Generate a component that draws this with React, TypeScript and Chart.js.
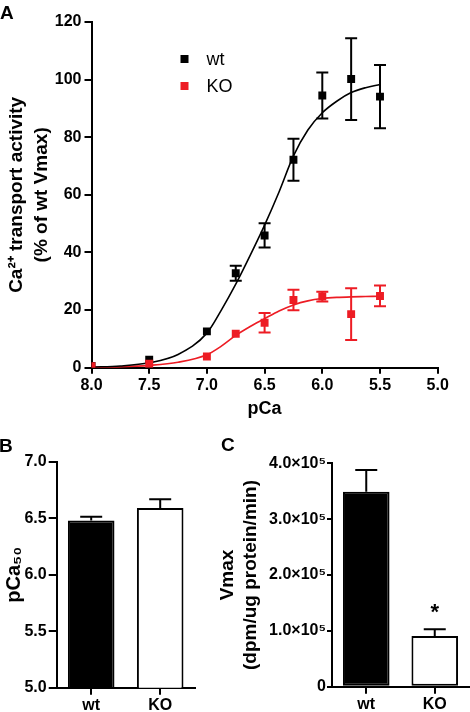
import React, { useEffect, useRef } from 'react';
import { Chart, registerables } from 'chart.js';

Chart.register(...registerables);

const FONT = "'Liberation Sans', Arial, Helvetica, sans-serif";
const RED = '#ED1C24';
const BLACK = '#000000';

// ---------- Panel A data ----------
const pCaLevels = [8.0, 7.5, 7.0, 6.75, 6.5, 6.25, 6.0, 5.75, 5.5];
const wtActivity = [0.6, 2.8, 12.6, 32.8, 45.9, 72.2, 94.5, 100.2, 94.1];
const wtSem = [0, 0, 0, 2.6, 4.2, 7.3, 8.0, 14.2, 11.0];
const koActivity = [0.5, 1.4, 3.9, 11.8, 15.6, 23.5, 24.7, 18.6, 24.9];
const koSem = [0, 0, 0, 0, 3.4, 3.6, 1.7, 9.0, 3.6];

const fitPCa = [8.0, 7.75, 7.5, 7.25, 7.0, 6.875, 6.75, 6.625, 6.5, 6.375, 6.25, 6.125, 6.0, 5.875, 5.75, 5.625, 5.5];
const wtFit = [0.2, 0.6, 1.7, 4.6, 12.0, 20.0, 29.0, 39.0, 49.5, 61.0, 73.5, 82.5, 88.5, 92.5, 95.5, 97.2, 98.3];
const koFit = [0.1, 0.3, 0.8, 1.9, 4.5, 7.5, 11.2, 14.3, 17.0, 19.7, 21.8, 23.2, 24.0, 24.4, 24.6, 24.7, 24.8];

const xTicksA = [8.0, 7.5, 7.0, 6.5, 6.0, 5.5, 5.0];
const yTicksA = [0, 20, 40, 60, 80, 100, 120];
const legendLabels = ['wt', 'KO'];

// ---------- Panel B / C data ----------
const groupLabels = ['wt', 'KO'];
const pCa50Values = [6.48, 6.59];
const pCa50Sem = [0.033, 0.077];
const vmaxValues = [349000, 90800];
const vmaxSem = [39000, 12000];
const vmaxMarks = ['', '*'];

const tickFont = { family: FONT, size: 16, weight: 'bold' as const };
const titleFont = (size: number, lh: number) => ({ family: FONT, size, weight: 'bold' as const, lineHeight: lh });

function axisGrid(tickLength: number) {
  return { display: true, drawOnChartArea: false, drawTicks: true, tickLength, color: BLACK, lineWidth: 2 };
}
const axisBorder = { display: true, color: BLACK, width: 2 };

function makeScatterErrorPlugin() {
  return {
    id: 'scatterErrors',
    afterDatasetsDraw(chart: any) {
      const ctx = chart.ctx;
      const xs = chart.scales.x;
      const ys = chart.scales.y;
      const sets = [
        { vals: wtActivity, errs: wtSem, color: BLACK },
        { vals: koActivity, errs: koSem, color: RED },
      ];
      ctx.save();
      sets.forEach((s) => {
        ctx.strokeStyle = s.color;
        ctx.lineWidth = 2;
        s.vals.forEach((v, i) => {
          const e = s.errs[i];
          if (!e) return;
          const x = xs.getPixelForValue(pCaLevels[i]);
          const yTop = ys.getPixelForValue(v + e);
          const yBot = ys.getPixelForValue(v - e);
          ctx.beginPath();
          ctx.moveTo(x, yTop);
          ctx.lineTo(x, yBot);
          ctx.moveTo(x - 6, yTop);
          ctx.lineTo(x + 6, yTop);
          ctx.moveTo(x - 6, yBot);
          ctx.lineTo(x + 6, yBot);
          ctx.stroke();
        });
      });
      ctx.restore();
    },
  };
}

function makeInsideLegendPlugin() {
  return {
    id: 'insideLegend',
    afterDraw(chart: any) {
      const ctx = chart.ctx;
      const area = chart.chartArea;
      ctx.save();
      legendLabels.forEach((lab, i) => {
        const d = chart.data.datasets.find((ds: any) => ds.label === lab);
        if (!d) return;
        const cx = area.left + 93;
        const cy = area.top + 37 + i * 27;
        ctx.fillStyle = d.backgroundColor;
        ctx.fillRect(cx - 4, cy - 4, 8, 8);
        ctx.fillStyle = BLACK;
        ctx.font = `18px ${FONT}`;
        ctx.textBaseline = 'middle';
        ctx.textAlign = 'left';
        ctx.fillText(d.label, cx + 22, cy + 1);
      });
      ctx.restore();
    },
  };
}

function makeBarErrorPlugin(values: number[], errors: number[], marks?: string[]) {
  return {
    id: 'barErrors',
    afterDatasetsDraw(chart: any) {
      const ctx = chart.ctx;
      const ys = chart.scales.y;
      const meta = chart.getDatasetMeta(0);
      ctx.save();
      ctx.strokeStyle = BLACK;
      ctx.lineWidth = 2;
      meta.data.forEach((bar: any, i: number) => {
        const x = bar.x;
        const y0 = ys.getPixelForValue(values[i]);
        const y1 = ys.getPixelForValue(values[i] + errors[i]);
        ctx.beginPath();
        ctx.moveTo(x, y0);
        ctx.lineTo(x, y1);
        ctx.moveTo(x - 11, y1);
        ctx.lineTo(x + 11, y1);
        ctx.stroke();
        if (marks && marks[i]) {
          ctx.fillStyle = BLACK;
          ctx.font = `bold 22px ${FONT}`;
          ctx.textAlign = 'center';
          ctx.textBaseline = 'alphabetic';
          ctx.fillText(marks[i], x, y1 - 10);
        }
      });
      ctx.restore();
    },
  };
}

function buildPanelA(): any {
  return {
    type: 'scatter',
    data: {
      datasets: [
        {
          label: 'KO',
          data: pCaLevels.map((p, i) => ({ x: p, y: koActivity[i] })),
          backgroundColor: RED,
          borderColor: RED,
          pointStyle: 'rect',
          pointRadius: 5.6,
          pointBorderWidth: 0,
          order: 0,
        },
        {
          label: 'wt',
          data: pCaLevels.map((p, i) => ({ x: p, y: wtActivity[i] })),
          backgroundColor: BLACK,
          borderColor: BLACK,
          pointStyle: 'rect',
          pointRadius: 5.6,
          pointBorderWidth: 0,
          order: 1,
        },
        {
          label: 'wt fit',
          data: fitPCa.map((p, i) => ({ x: p, y: wtFit[i] })),
          showLine: true,
          borderColor: BLACK,
          borderWidth: 1.6,
          pointRadius: 0,
          cubicInterpolationMode: 'monotone',
          order: 2,
        },
        {
          label: 'KO fit',
          data: fitPCa.map((p, i) => ({ x: p, y: koFit[i] })),
          showLine: true,
          borderColor: RED,
          borderWidth: 1.6,
          pointRadius: 0,
          cubicInterpolationMode: 'monotone',
          order: 2,
        },
      ],
    },
    options: {
      responsive: false,
      animation: false,
      events: [],
      layout: { padding: { top: 22, right: 32.3, left: 0, bottom: 0 } },
      plugins: { legend: { display: false }, tooltip: { enabled: false } },
      scales: {
        x: {
          type: 'linear',
          reverse: true,
          min: 5,
          max: 8,
          afterBuildTicks: (s: any) => { s.ticks = xTicksA.map((v) => ({ value: v })); },
          ticks: { callback: (v: any) => Number(v).toFixed(1), font: tickFont, color: BLACK, padding: 2, maxRotation: 0 },
          grid: axisGrid(6),
          border: axisBorder,
          title: { display: true, text: 'pCa', font: titleFont(18, 1.2), color: BLACK, padding: { top: 0, bottom: 10 } },
          afterFit: (s: any) => { s.height = 62.3; },
        },
        y: {
          type: 'linear',
          min: 0,
          max: 120,
          afterBuildTicks: (s: any) => { s.ticks = yTicksA.map((v) => ({ value: v })); },
          ticks: { font: tickFont, color: BLACK, padding: 3 },
          grid: axisGrid(7),
          border: axisBorder,
          title: {
            display: true,
            text: ['Ca²⁺ transport activity', '(% of wt Vmax)'],
            font: titleFont(19, 1.28),
            color: BLACK,
            padding: { top: 5, bottom: 0 },
          },
          afterFit: (s: any) => { s.width = 91.5; },
        },
      },
    },
    plugins: [makeScatterErrorPlugin(), makeInsideLegendPlugin()],
  };
}

function buildBarPanel(opts: {
  values: number[]; errors: number[]; marks?: string[]; min: number; max: number; step: number;
  tickFmt: (v: number) => string; title: string | string[]; titleSize: number; titleLH: number; titlePadTop: number;
  padTop: number; padRight: number; yWidth: number; xHeight: number; yTickLen: number; yTickPad: number;
  barPct: number;
}): any {
  return {
    type: 'bar',
    data: {
      labels: groupLabels,
      datasets: [
        {
          data: opts.values,
          backgroundColor: [BLACK, '#FFFFFF'],
          borderColor: BLACK,
          borderWidth: 2,
          borderSkipped: false,
          barPercentage: opts.barPct,
          categoryPercentage: 1,
        },
      ],
    },
    options: {
      responsive: false,
      animation: false,
      events: [],
      layout: { padding: { top: opts.padTop, right: opts.padRight, left: 0, bottom: 0 } },
      plugins: { legend: { display: false }, tooltip: { enabled: false } },
      scales: {
        x: {
          type: 'category',
          offset: true,
          ticks: { font: tickFont, color: BLACK, padding: 1, maxRotation: 0 },
          grid: { ...axisGrid(7), offset: false },
          border: axisBorder,
          afterFit: (s: any) => { s.height = opts.xHeight; },
        },
        y: {
          type: 'linear',
          min: opts.min,
          max: opts.max,
          ticks: { stepSize: opts.step, callback: (v: any) => opts.tickFmt(Number(v)), font: tickFont, color: BLACK, padding: opts.yTickPad },
          grid: axisGrid(opts.yTickLen),
          border: axisBorder,
          title: { display: true, text: opts.title, font: titleFont(opts.titleSize, opts.titleLH), color: BLACK, padding: { top: opts.titlePadTop, bottom: 0 } },
          afterFit: (s: any) => { s.width = opts.yWidth; },
        },
      },
    },
    plugins: [makeBarErrorPlugin(opts.values, opts.errors, opts.marks)],
  };
}

function ChartCanvas(props: { left: number; top: number; width: number; height: number; build: () => any }) {
  const ref = useRef<HTMLCanvasElement>(null);
  useEffect(() => {
    const chart = new Chart(ref.current as HTMLCanvasElement, props.build());
    return () => chart.destroy();
  }, []);
  return (
    <canvas
      ref={ref}
      width={props.width}
      height={props.height}
      style={{ position: 'absolute', left: props.left, top: props.top, width: props.width, height: props.height, display: 'block' }}
    />
  );
}

const letterStyle: React.CSSProperties = {
  position: 'absolute',
  fontFamily: FONT,
  fontWeight: 'bold',
  fontSize: 19,
  lineHeight: '19px',
  color: BLACK,
};

export default function App() {
  return (
    <div style={{ position: 'absolute', left: 0, top: 0, width: 470, height: 712, background: '#FFFFFF', overflow: 'hidden' }}>
      <ChartCanvas left={0} top={0} width={470} height={430} build={buildPanelA} />
      <ChartCanvas
        left={0}
        top={430}
        width={212}
        height={282}
        build={() =>
          buildBarPanel({
            values: pCa50Values, errors: pCa50Sem, min: 5, max: 7, step: 0.5,
            tickFmt: (v) => v.toFixed(1), title: 'pCa₅₀', titleSize: 20, titleLH: 1.2, titlePadTop: 2,
            padTop: 31.7, padRight: 17.3, yWidth: 56.7, xHeight: 24.3, yTickLen: 8, yTickPad: 2, barPct: 0.675,
          })
        }
      />
      <ChartCanvas
        left={212}
        top={430}
        width={258}
        height={282}
        build={() =>
          buildBarPanel({
            values: vmaxValues, errors: vmaxSem, marks: vmaxMarks, min: 0, max: 400000, step: 100000,
            tickFmt: (v) => (v === 0 ? '0' : `${(v / 100000).toFixed(1)}×10⁵`), title: ['Vmax', '(dpm/ug protein/min)'],
            titleSize: 19, titleLH: 1.21, titlePadTop: 4,
            padTop: 33.3, padRight: 1, yWidth: 120, xHeight: 25.3, yTickLen: 5, yTickPad: 1, barPct: 0.68,
          })
        }
      />
      <div style={{ ...letterStyle, left: 0, top: 2.5 }}>A</div>
      <div style={{ ...letterStyle, left: -1, top: 435.5 }}>B</div>
      <div style={{ ...letterStyle, left: 221, top: 434.5 }}>C</div>
    </div>
  );
}
